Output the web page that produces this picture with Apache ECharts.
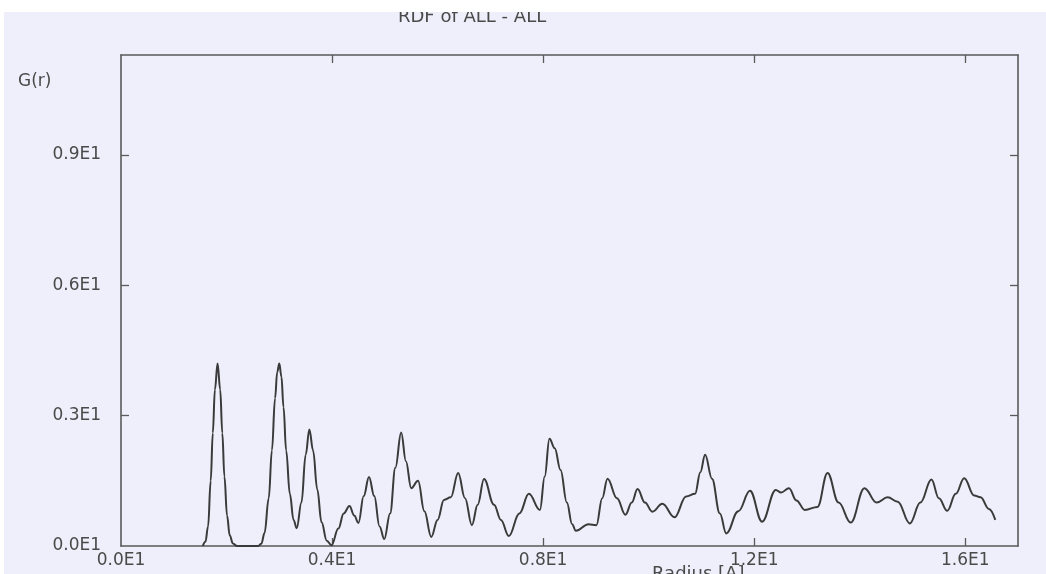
<!DOCTYPE html>
<html>
<head>
<meta charset="utf-8">
<script src="https://cdn.jsdelivr.net/npm/echarts@6/dist/echarts.min.js"></script>
<style>
  html, body { margin: 0; padding: 0; background: #ffffff; width: 1046px; height: 574px; overflow: hidden; }
  #chart { position: absolute; left: 4px; top: 12px; width: 1042px; height: 562px; background: #efeffb; overflow: hidden; }
</style>
</head>
<body>
<div id="chart"></div>
<script>
// Radius [A]
const radius = [
  1.55, 1.6, 1.65, 1.7, 1.74, 1.78, 1.83, 1.88, 1.92, 1.96, 2.01, 2.06, 2.12, 2.2,
  2.6, 2.66, 2.72, 2.8, 2.86, 2.92, 2.96, 3.0, 3.04, 3.08, 3.13, 3.2, 3.27, 3.33,
  3.42, 3.5, 3.57, 3.64, 3.72, 3.8, 3.9, 3.99,
  4.12, 4.22, 4.33, 4.42, 4.5, 4.6, 4.7, 4.8, 4.9, 4.99,
  5.1, 5.2, 5.31, 5.4, 5.5, 5.63, 5.75, 5.88, 6.0, 6.12, 6.25, 6.39, 6.52, 6.65, 6.76, 6.88,
  7.07, 7.2, 7.35, 7.55, 7.73, 7.94, 8.03, 8.12, 8.22, 8.33, 8.45, 8.55, 8.62,
  8.86, 9.01, 9.12, 9.22, 9.4, 9.56, 9.68, 9.79, 9.93, 10.07, 10.26, 10.49, 10.71, 10.88,
  10.98, 11.07, 11.2, 11.35, 11.47, 11.7, 11.92, 12.15, 12.41, 12.51, 12.66, 12.8, 12.96,
  13.2, 13.39, 13.6, 13.83, 14.09, 14.32, 14.53, 14.72, 14.95, 15.15, 15.36, 15.5, 15.66,
  15.82, 15.98, 16.17, 16.29, 16.45, 16.57
];
// G(r)
const gValues = [
  0, 0.1, 0.45, 1.5, 2.6, 3.6, 4.2, 3.6, 2.6, 1.6, 0.7, 0.25, 0.06, 0,
  0, 0.05, 0.3, 1.1, 2.2, 3.4, 4.0, 4.2, 3.9, 3.2, 2.2, 1.2, 0.6, 0.41,
  1.0, 2.1, 2.68, 2.2, 1.3, 0.55, 0.12, 0.02,
  0.4, 0.75, 0.92, 0.7, 0.53, 1.15, 1.59, 1.15, 0.45, 0.16,
  0.75, 1.8, 2.61, 1.95, 1.33, 1.5, 0.8, 0.21, 0.6, 1.06, 1.12, 1.68, 1.1, 0.48, 0.95, 1.54,
  0.95, 0.6, 0.23, 0.75, 1.2, 0.83, 1.6, 2.47, 2.25, 1.75, 1.0, 0.5, 0.35,
  0.5, 0.48, 1.1, 1.55, 1.1, 0.72, 1.0, 1.31, 1.0, 0.79, 0.97, 0.66, 1.14, 1.2,
  1.7, 2.1, 1.55, 0.75, 0.29, 0.8, 1.27, 0.56, 1.29, 1.23, 1.33, 1.05, 0.83,
  0.9, 1.68, 1.0, 0.54, 1.33, 1.0, 1.12, 1.02, 0.52, 1.0, 1.53, 1.1, 0.81,
  1.2, 1.56, 1.16, 1.12, 0.85, 0.6
];
const xTickValues = [0, 4, 8, 12, 16];
const xTickLabels = ['0.0E1', '0.4E1', '0.8E1', '1.2E1', '1.6E1'];
const yTickValues = [0, 3, 6, 9];
const yTickLabels = ['0.0E1', '0.3E1', '0.6E1', '0.9E1'];
const titleText = 'RDF of ALL - ALL';
const xName = 'Radius [A]';
const yName = 'G(r)';

const seriesData = radius.map((r, i) => [r, gValues[i]]);
const frameColor = '#5a5a5a';
const textColor = '#4a4a4a';
const font = 'DejaVu Sans';

const chart = echarts.init(document.getElementById('chart'), null, { renderer: 'canvas' });
const axisCommon = {
  axisLine: { show: true, onZero: false, lineStyle: { color: frameColor, width: 1.6 } },
  axisTick: { show: true, inside: true, length: 8, lineStyle: { color: frameColor, width: 1.3 } },
  splitLine: { show: false }
};
chart.setOption({
  animation: false,
  backgroundColor: '#efeffb',
  grid: { left: 117, right: 28, top: 43, bottom: 28, containLabel: false },
  graphic: [
    { type: 'text', left: 394, top: -4, style: { text: titleText, font: '18px "' + font + '"', fill: textColor } },
    { type: 'text', left: 14, top: 61, style: { text: yName, font: '17px "' + font + '"', fill: textColor } },
    { type: 'text', left: 648, top: 553, style: { text: xName, font: '18px "' + font + '"', fill: textColor } }
  ],
  xAxis: [
    Object.assign({}, axisCommon, {
      type: 'value', position: 'bottom', min: 0, max: 17,
      axisTick: Object.assign({}, axisCommon.axisTick, { customValues: xTickValues.slice(1) }),
      axisLabel: {
        customValues: xTickValues,
        formatter: v => xTickLabels[xTickValues.indexOf(v)] || '',
        color: textColor, fontFamily: font, fontSize: 17, margin: 6
      }
    }),
    Object.assign({}, axisCommon, {
      type: 'value', position: 'top', min: 0, max: 17,
      axisTick: Object.assign({}, axisCommon.axisTick, { customValues: xTickValues.slice(1) }),
      axisLabel: { show: false }
    })
  ],
  yAxis: [
    Object.assign({}, axisCommon, {
      type: 'value', position: 'left', min: 0, max: 11.3,
      axisTick: Object.assign({}, axisCommon.axisTick, { customValues: yTickValues.slice(1) }),
      axisLabel: {
        customValues: yTickValues,
        formatter: v => yTickLabels[yTickValues.indexOf(v)] || '',
        color: textColor, fontFamily: font, fontSize: 17, margin: 20
      }
    }),
    Object.assign({}, axisCommon, {
      type: 'value', position: 'right', min: 0, max: 11.3,
      axisTick: Object.assign({}, axisCommon.axisTick, { customValues: yTickValues.slice(1) }),
      axisLabel: { show: false }
    })
  ],
  series: [{
    type: 'line',
    data: seriesData,
    xAxisIndex: 0, yAxisIndex: 0,
    showSymbol: false,
    smooth: 0.4,
    smoothMonotone: 'x',
    clip: true,
    lineStyle: { color: '#3a3a3a', width: 2 }
  }]
});
</script>
</body>
</html>
